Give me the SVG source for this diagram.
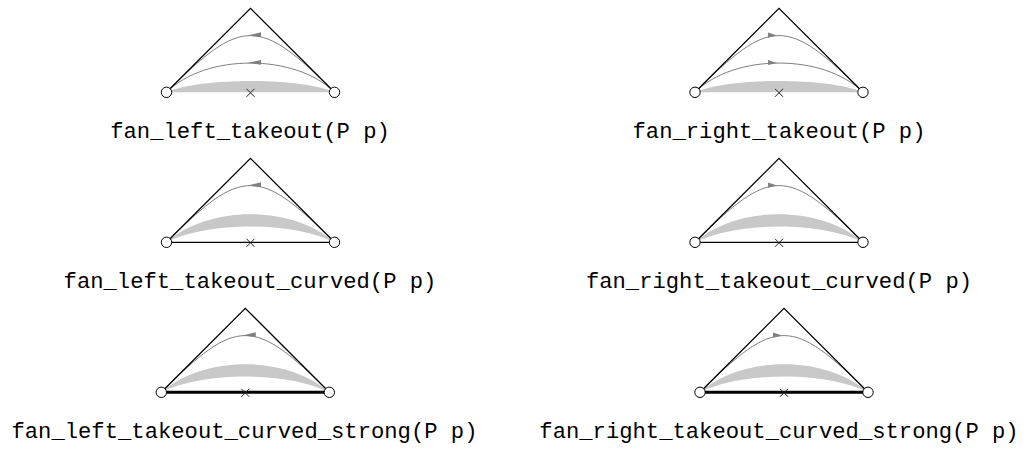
<svg xmlns="http://www.w3.org/2000/svg" xmlns:xlink="http://www.w3.org/1999/xlink" width="1029" height="451" viewBox="0 0 1029 451">
<style>
.tri{fill:none;stroke:#000;stroke-width:1.3;stroke-linejoin:miter}
.gc{fill:none;stroke:#808080;stroke-width:1}
.ar{fill:#808080;stroke:none}
.band{fill:#c8c8c8;stroke:none}
.base{stroke:#000;stroke-width:1.2}
.thick{stroke:#000;stroke-width:3}
.cross{stroke:#222;stroke-width:1;fill:none}
.pt{fill:#fff;stroke:#000;stroke-width:1}
.lbl{font-family:"Liberation Mono","Courier New",monospace;font-size:22.2px;fill:#000;text-anchor:middle}
</style>
<defs>
<path id="tri" class="tri" d="M -84 0 L 0 -84 L 84 0"/>
<path id="upper" class="gc" d="M -84 0 C -8.4 -75.6 8.4 -75.6 84 0"/>
<path id="lower" class="gc" d="M -84 0 C -45 -39 45 -39 84 0"/>
<path id="flat" class="band" d="M -84 0 C -50 -15 50 -15 84 0 Z"/>
<path id="crescent" class="band" d="M -84 0 C -42 -37.5 42 -37.5 84 0 C 42 -21 -42 -21 -84 0 Z"/>
<polygon id="arLu" class="ar" points="-3,-56.7 10.5,-60 10.5,-55.3"/>
<polygon id="arLl" class="ar" points="-3,-29.3 10.5,-32.3 10.5,-27.6"/>
<polygon id="arRu" class="ar" points="-2,-56.7 -11,-59.7 -11,-54.6"/>
<polygon id="arRl" class="ar" points="-2,-29.3 -11,-32.2 -11,-27.2"/>
<path id="cross" class="cross" d="M -4 -3.5 L 4 4.5 M -4 4.5 L 4 -3.5"/>
<g id="pts"><circle class="pt" cx="-84" cy="0" r="5.2"/><circle class="pt" cx="84" cy="0" r="5.2"/></g>
</defs>
<g id="connectors"/>
<g id="fan_left_takeout">
<g transform="translate(250.5,92.3)">
<use xlink:href="#flat"/><use xlink:href="#upper"/><use xlink:href="#lower"/>
<use xlink:href="#arLu"/><use xlink:href="#arLl"/>
<use xlink:href="#tri"/><use xlink:href="#cross"/><use xlink:href="#pts"/>
</g>
<text class="lbl" x="250" y="138">fan_left_takeout(P p)</text>
</g>
<g id="fan_right_takeout">
<g transform="translate(779,92.3)">
<use xlink:href="#flat"/><use xlink:href="#upper"/><use xlink:href="#lower"/>
<use xlink:href="#arRu"/><use xlink:href="#arRl"/>
<use xlink:href="#tri"/><use xlink:href="#cross"/><use xlink:href="#pts"/>
</g>
<text class="lbl" x="779" y="138">fan_right_takeout(P p)</text>
</g>
<g id="fan_left_takeout_curved">
<g transform="translate(250.5,242.3)">
<use xlink:href="#crescent"/><use xlink:href="#upper"/>
<use xlink:href="#arLu"/>
<use xlink:href="#tri"/><line class="base" x1="-84" y1="0" x2="84" y2="0"/><use xlink:href="#cross"/><use xlink:href="#pts"/>
</g>
<text class="lbl" x="250" y="288">fan_left_takeout_curved(P p)</text>
</g>
<g id="fan_right_takeout_curved">
<g transform="translate(779,242.3)">
<use xlink:href="#crescent"/><use xlink:href="#upper"/>
<use xlink:href="#arRu"/>
<use xlink:href="#tri"/><line class="base" x1="-84" y1="0" x2="84" y2="0"/><use xlink:href="#cross"/><use xlink:href="#pts"/>
</g>
<text class="lbl" x="779" y="288">fan_right_takeout_curved(P p)</text>
</g>
<g id="fan_left_takeout_curved_strong">
<g transform="translate(245.3,392.3)">
<use xlink:href="#crescent"/><use xlink:href="#upper"/>
<use xlink:href="#arLu"/>
<use xlink:href="#tri"/><line class="thick" x1="-84" y1="0" x2="84" y2="0"/><use xlink:href="#cross"/><use xlink:href="#pts"/>
</g>
<text class="lbl" x="244.5" y="438">fan_left_takeout_curved_strong(P p)</text>
</g>
<g id="fan_right_takeout_curved_strong">
<g transform="translate(784,392.3)">
<use xlink:href="#crescent"/><use xlink:href="#upper"/>
<use xlink:href="#arRu"/>
<use xlink:href="#tri"/><line class="thick" x1="-84" y1="0" x2="84" y2="0"/><use xlink:href="#cross"/><use xlink:href="#pts"/>
</g>
<text class="lbl" x="779" y="438">fan_right_takeout_curved_strong(P p)</text>
</g>
</svg>
